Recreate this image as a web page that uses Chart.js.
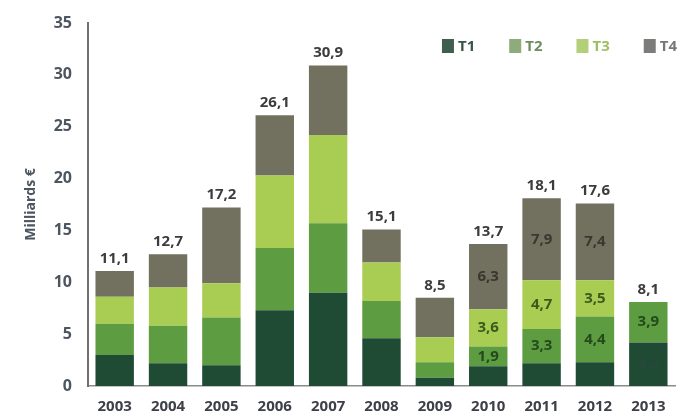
<!DOCTYPE html>
<html><head><meta charset="utf-8">
<script src="https://cdn.jsdelivr.net/npm/chart.js@4.4.1/dist/chart.umd.min.js"></script>
<style>html,body{margin:0;padding:0;background:#fff}</style>
</head><body>
<canvas id="c" width="696" height="415"></canvas>
<script>
const years = ["2003","2004","2005","2006","2007","2008","2009","2010","2011","2012","2013"];
const t1 = [3.0, 2.2, 2.0, 7.3, 9.0, 4.6, 0.8, 1.9, 2.2, 2.3, 4.2];
const t2 = [3.0, 3.6, 4.6, 6.0, 6.7, 3.6, 1.5, 1.9, 3.3, 4.4, 3.9];
const t3 = [2.6, 3.7, 3.3, 7.0, 8.5, 3.7, 2.4, 3.6, 4.7, 3.5, null];
const t4 = [2.5, 3.2, 7.3, 5.8, 6.7, 3.2, 3.8, 6.3, 7.9, 7.4, null];
const totalLabels = ["11,1","12,7","17,2","26,1","30,9","15,1","8,5","13,7","18,1","17,6","8,1"];
const totals = [11.1, 12.7, 17.2, 26.1, 30.9, 15.1, 8.5, 13.7, 18.1, 17.6, 8.1];
const lblT1 = [null,null,null,null,null,null,null,null,null,null,"4,2"];
const lblT2 = [null,null,null,null,null,null,null,"1,9","3,3","4,4","3,9"];
const lblT3 = [null,null,null,null,null,null,null,"3,6","4,7","3,5",null];
const lblT4 = [null,null,null,null,null,null,null,"6,3","7,9","7,4",null];
const seriesNames = ["T1","T2","T3","T4"];
const yTicks = [0,5,10,15,20,25,30,35];

const barColors = ["#1f4b35","#5d9c40","#a8cd52","#72705e"];
const legendColors = ["#3f5e4e","#8eab7c","#b3d078","#7c7c7a"];
const legendTextColors = ["#3a5446","#6d8c60","#9cc062","#777777"];
const innerColors = ["#27483a","#244a1c","#3b5a1c","#383830"];
const FONT = "'Open Sans', 'Noto Sans', sans-serif";

const seriesVals = [t1,t2,t3,t4];
const seriesLbls = [lblT1,lblT2,lblT3,lblT4];

const labelPlugin = {
  id: 'labels',
  afterDatasetsDraw(chart) {
    const ctx = chart.ctx;
    ctx.save();
    ctx.textAlign = 'center';
    ctx.textBaseline = 'middle';
    ctx.font = "bold 15px " + FONT;
    seriesLbls.forEach((lbls, i) => {
      const meta = chart.getDatasetMeta(i);
      ctx.fillStyle = innerColors[i];
      lbls.forEach((l, j) => {
        if (!l) return;
        const el = meta.data[j];
        ctx.fillText(l, el.x, (el.y + el.base) / 2);
      });
    });
    ctx.fillStyle = "#3c3c3c";
    ctx.textBaseline = 'bottom';
    const ys = chart.scales.y;
    const m0 = chart.getDatasetMeta(0);
    totals.forEach((v, j) => {
      ctx.fillText(totalLabels[j], m0.data[j].x, ys.getPixelForValue(v) - 5);
    });
    ctx.restore();
  },
  afterDraw(chart) {
    const ctx = chart.ctx;
    ctx.save();
    ctx.font = "bold 15px " + FONT;
    ctx.textBaseline = 'middle';
    ctx.textAlign = 'left';
    const bw = 12, bh = 14, gap = 4, spacing = 34;
    const widths = seriesNames.map(n => bw + gap + ctx.measureText(n).width);
    const total = widths.reduce((a, b) => a + b, 0) + spacing * (seriesNames.length - 1);
    let x = chart.chartArea.right + 2 - total;
    const y = 46;
    seriesNames.forEach((n, i) => {
      ctx.fillStyle = legendColors[i];
      ctx.fillRect(x, y - bh / 2, bw, bh);
      ctx.fillStyle = legendTextColors[i];
      ctx.fillText(n, x + bw + gap, y + 1);
      x += widths[i] + spacing;
    });
    ctx.restore();
  }
};

new Chart(document.getElementById('c'), {
  type: 'bar',
  data: {
    labels: years,
    datasets: seriesNames.map((n, i) => ({
      label: n,
      data: seriesVals[i],
      backgroundColor: barColors[i],
      borderWidth: 0,
      barPercentage: 0.72,
      categoryPercentage: 1.0
    }))
  },
  options: {
    responsive: false,
    animation: false,
    layout: { padding: { top: 23, right: 21, left: 23, bottom: 0 } },
    plugins: { legend: { display: false }, tooltip: { enabled: false } },
    scales: {
      x: {
        stacked: true,
        grid: { display: false },
        border: { display: true, color: '#8a8a8a', width: 1.5 },
        ticks: { font: { family: FONT, weight: 'bold', size: 15 }, color: '#3d4048', padding: 4 },
        afterFit(s) { s.height = 29; }
      },
      y: {
        stacked: true,
        min: 0, max: 35,
        afterBuildTicks(s) { s.ticks = yTicks.map(v => ({ value: v })); },
        grid: { display: false },
        border: { display: true, color: '#707070', width: 2 },
        ticks: { font: { family: FONT, weight: 'bold', size: 16 }, color: '#4d5560', padding: 8 },
        title: { display: true, text: 'Milliards €', font: { family: FONT, weight: 'bold', size: 14 }, color: '#4d5560', padding: 0 },
        afterFit(s) { s.width = 65; }
      }
    }
  },
  plugins: [labelPlugin]
});
</script>
</body></html>
